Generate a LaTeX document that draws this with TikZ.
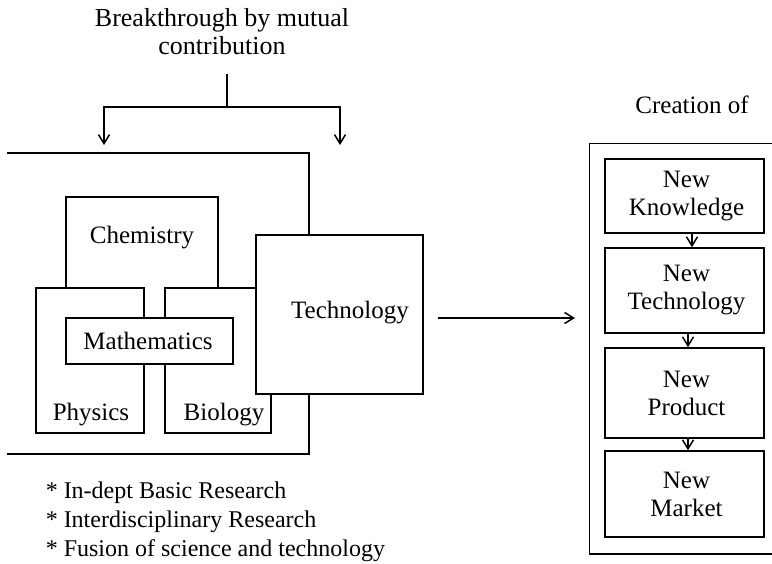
\documentclass[tikz,border=0pt]{standalone}
\usepackage{fontspec}
\setmainfont{Liberation Serif}
\usetikzlibrary{arrows.meta,fit}
\begin{document}
\begin{tikzpicture}[x=0.5pt,y=-0.5pt,
  line width=0.75pt,
  box/.style={draw, fill=white, inner sep=0pt},
  lbl/.style={inner sep=0pt, align=center, font=\fontsize{12.5}{14}\selectfont},
  arr/.style={-{Straight Barb[length=4.5pt,width=5.5pt]}},
]
\useasboundingbox (0,0) rectangle (772,563);

% heading and top splitter
\node[lbl, font=\fontsize{13}{14}\selectfont] (head) at (222,32) {Breakthrough by mutual\\contribution};
\coordinate (j) at (227,74);
\coordinate (jb) at (227,107);
\coordinate (al) at (104,145);
\coordinate (ar) at (340,145);
\draw (j) -- (jb);
\draw[arr] (jb) -| (al);
\draw[arr] (jb) -| (ar);

% outer open box
\coordinate (otl) at (7,153);
\coordinate (otr) at (309,153);
\coordinate (obr) at (309,454);
\coordinate (obl) at (7,454);
\draw (otl) -- (otr) -- (obr) -- (obl);

% disciplines
\node[box, fit={(66,197) (218,340)}] (chem) {};
\node[lbl] (chemt) at (142,238) {Chemistry};
\node[box, fit={(36,288) (144,433)}] (phys) {};
\node[lbl] (physt) at (91,415) {Physics};
\node[box, fit={(165,288) (271,433)}] (bio) {};
\node[lbl] (biot) at (224,415) {Biology};
\node[box, fit={(66,318) (233,364)}] (math) {};
\node[lbl] (matht) at (148,341) {Mathematics};
\node[box, fit={(256,235) (423,394)}] (tech) {};
\node[lbl] (techt) at (350,313) {Technology};

% arrow to creation
\coordinate (a1) at (438,318);
\coordinate (a2) at (575,318);
\draw[arr] (a1) -- (a2);

% creation column
\node[lbl] (cret) at (692,105) {Creation of};
\node[inner sep=0pt, fit={(590,144) (772,553)}] (cre) {};
\draw (cre.north east) -- (cre.north west) -- (cre.south west) -- (cre.south east);

\node[box, fit={(605,159) (764,233)}] (nk) {};
\node[lbl] at ([xshift=1pt]nk.center) {New\\Knowledge};
\node[box, fit={(605,248) (764,333)}] (nt) {};
\node[lbl] at ([xshift=1pt]nt.center) {New\\Technology};
\node[box, fit={(605,348) (764,438)}] (np) {};
\node[lbl] at ([xshift=1pt]np.center) {New\\Product};
\node[box, fit={(605,451) (764,537)}] (nm) {};
\node[lbl] at ([xshift=1pt]nm.center) {New\\Market};

\draw[arr] ([xshift=3.75pt]nk.south) -- ([xshift=3.75pt]nt.north);
\draw[arr] ([xshift=1.75pt]nt.south) -- ([xshift=1.75pt]np.north);
\draw[arr] ([xshift=1.75pt]np.south) -- ([xshift=1.75pt]nm.north);

% bullet list
\node[lbl, align=left, anchor=north west, font=\fontsize{12}{14.6}\selectfont] (list) at (45,481)
  {* In-dept Basic Research\\* Interdisciplinary Research\\* Fusion of science and technology};
\end{tikzpicture}
\end{document}
